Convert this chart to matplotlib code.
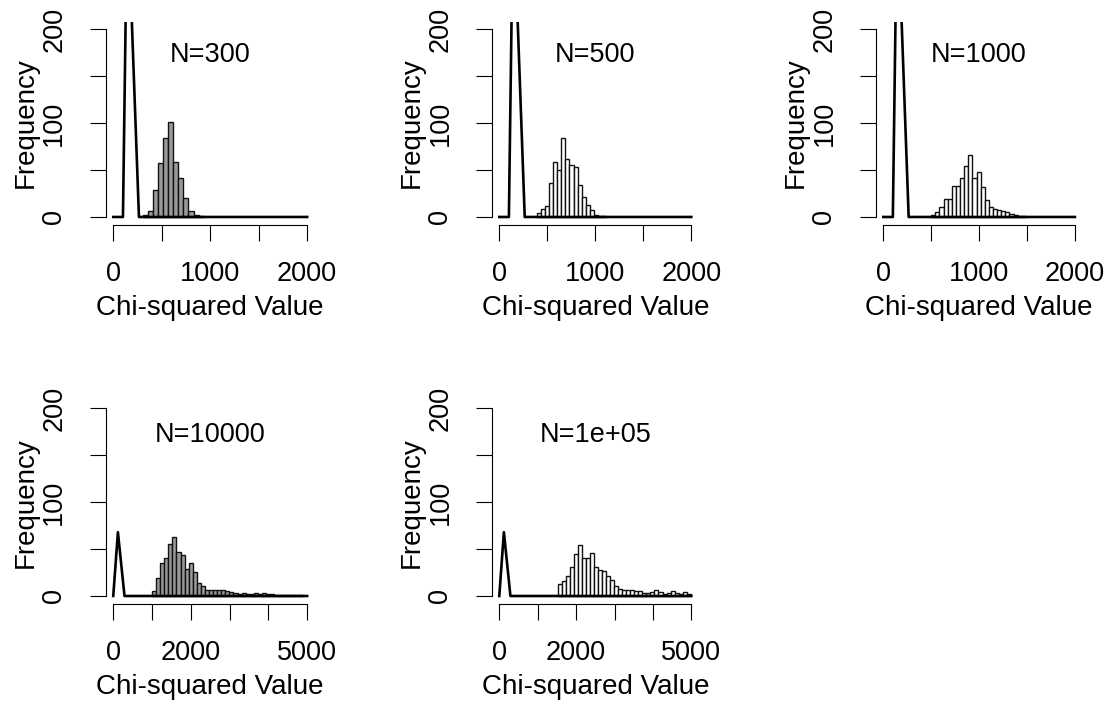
import numpy as np
from matplotlib import pyplot as plt

plt.rcParams['font.family'] = ['Liberation Sans', 'DejaVu Sans']

W, H = 1114, 709

# simulated chi-squared histograms: (left edge of first bin, bin width, counts)
n300_start, n300_width = 308, 52
n300_counts = [2, 6, 29, 57, 84, 101, 59, 41, 20, 6, 2, 1]

n500_start, n500_width = 395, 42
n500_counts = [4, 8, 12, 36, 58, 50, 84, 62, 55, 53, 34, 21, 13, 7, 2, 1, 1]

n1000_start, n1000_width = 500, 43
n1000_counts = [2, 5, 11, 19, 19, 33, 33, 42, 54, 66, 42, 48, 32, 18, 11, 8, 7,
                6, 5, 3, 2, 1, 1]

n1e4_start, n1e4_width = 1000, 105
n1e4_counts = [5, 19, 35, 40, 55, 63, 47, 44, 29, 35, 26, 14, 11, 6,
               6, 6, 6, 6, 5, 4, 3, 2, 3, 2, 2, 3, 2, 3, 2, 2, 1, 1, 1, 1, 1, 1, 1]

n1e5_start, n1e5_width = 1520, 105
n1e5_counts = [13, 16, 21, 31, 45, 54, 41, 41, 46, 31, 28, 27, 21, 17, 11, 7, 6,
               6, 6, 5, 5, 3, 3, 4, 6, 4, 2, 3, 5, 3, 2, 4, 2]

# reference curve drawn on top of each histogram
ref_x_small = [0, 100, 145, 265, 2000]
ref_y_small = [0, 0, 340, 0, 0]
ref_x_large = [0, 120, 290, 5000]
ref_y_large = [0, 68, 0, 0]

titles = ["N=300", "N=500", "N=1000", "N=10000", "N=1e+05"]

panels = [
    (n300_start, n300_width, n300_counts, '#9a9a9a', 0, 0),
    (n500_start, n500_width, n500_counts, 'white', 0, 1),
    (n1000_start, n1000_width, n1000_counts, 'white', 0, 2),
    (n1e4_start, n1e4_width, n1e4_counts, '#9a9a9a', 1, 0),
    (n1e5_start, n1e5_width, n1e5_counts, 'white', 1, 1),
]

# pixel boxes of the plot regions
col_left = [105.5, 491.6, 875.6]
col_width = [209.4, 207.4, 207.0]
row_top = [21.5, 400.8]
row_height = [203.0, 202.7]

fig = plt.figure(figsize=(W / 100, H / 100), dpi=100)

for i, (start, width, counts, fill, r, c) in enumerate(panels):
    l, w = col_left[c], col_width[c]
    t, h = row_top[r], row_height[r]
    ax = fig.add_axes([l / W, 1 - (t + h) / H, w / W, h / H])

    edges = start + width * np.arange(len(counts))
    ax.bar(edges, counts, width=width, align='edge', color=fill,
           edgecolor='#111111', linewidth=1.0)

    if r == 0:
        xmax = 2000
        ax.plot(ref_x_small, ref_y_small, color='black', linewidth=1.9)
        xticks = [0, 500, 1000, 1500, 2000]
        xlabels = ['0', '', '1000', '', '2000']
    else:
        xmax = 5000
        ax.plot(ref_x_large, ref_y_large, color='black', linewidth=1.9)
        xticks = [0, 1000, 2000, 3000, 4000, 5000]
        xlabels = ['0', '', '2000', '', '', '5000']

    ax.set_xlim(-0.04 * xmax, 1.04 * xmax)
    ax.set_ylim(-8, 208)
    ax.set_xticks(xticks)
    ax.set_xticklabels(xlabels)
    ax.set_yticks([0, 50, 100, 150, 200])
    ax.set_yticklabels(['0', '', '100', '', '200'])

    for side in ['top', 'right']:
        ax.spines[side].set_visible(False)
    ax.spines['bottom'].set_bounds(0, xmax)
    ax.spines['left'].set_bounds(0, 200)
    ax.spines['bottom'].set_linewidth(0.8)
    ax.spines['left'].set_linewidth(0.8)

    ax.tick_params(direction='out', length=11.5, width=0.8, labelsize=19.5)
    ax.tick_params(axis='x', pad=15)
    ax.tick_params(axis='y', pad=16, labelrotation=90)
    for lab in ax.get_yticklabels():
        lab.set_va('center')

    ax.text(xmax / 2, 172, titles[i], ha='center', va='center', fontsize=19.5)

    ax.set_xlabel("Chi-squared Value", fontsize=20)
    ax.xaxis.set_label_coords(0.5, -70 / h)
    ax.xaxis.label.set_va('top')
    ax.set_ylabel("Frequency", fontsize=20)
    ax.yaxis.set_label_coords(-67 / w, 0.5)

fig.savefig('out.png', dpi=100)
